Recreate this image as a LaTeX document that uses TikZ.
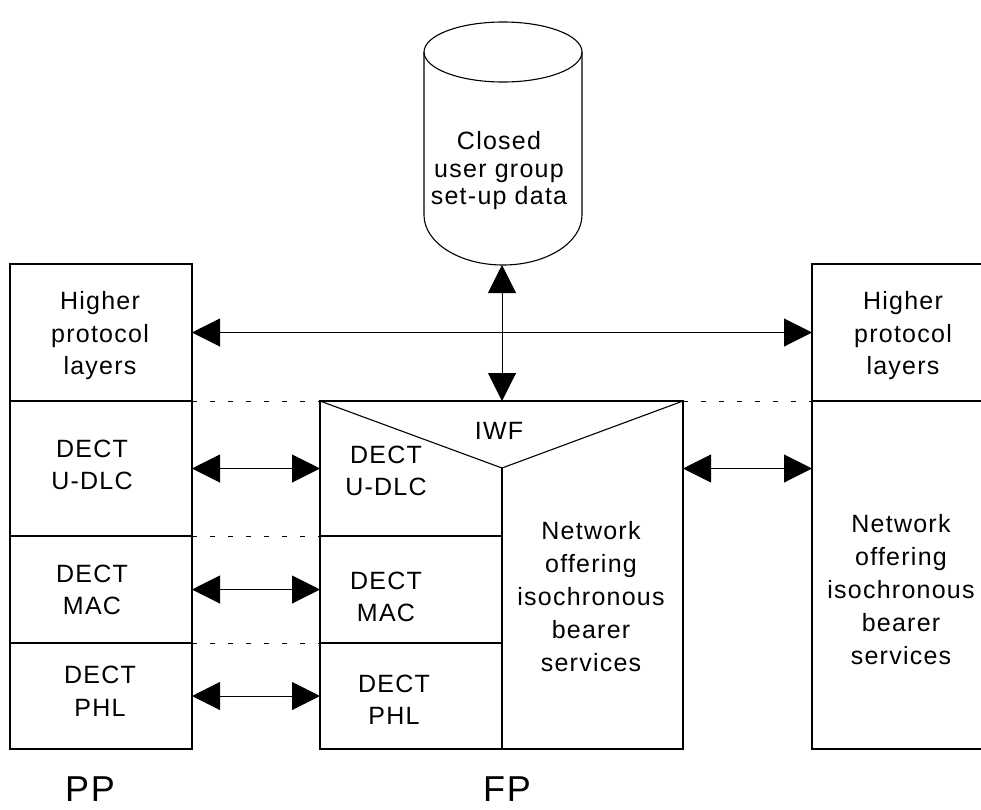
\documentclass[tikz,border=0pt]{standalone}
\usepackage{fontspec}
\setmainfont{Liberation Sans}[LetterSpace=5]
\usetikzlibrary{arrows.meta}
\begin{document}
\begin{tikzpicture}[x=1pt,y=-1pt,line width=1.1pt,
  box/.style={draw,rectangle,outer sep=0pt,inner sep=0pt},
  lbl/.style={align=center,inner sep=0pt,font=\fontsize{25}{32.5}\selectfont},
  big/.style={inner sep=0pt,anchor=base,font=\fontsize{36}{38}\selectfont},
  arr/.style={{Triangle[length=28pt,width=28pt]}-{Triangle[length=28pt,width=28pt]},line width=1pt},
  sep/.style={dash pattern=on 5pt off 13pt,line width=0.9pt}]
\useasboundingbox (0,0) rectangle (981,809);

% cylinder
\draw (424,52) -- (424,215) arc[start angle=180,end angle=360,x radius=79pt,y radius=50pt] -- (582,52);
\draw (503,52) ellipse[x radius=79pt,y radius=30pt];
\node[lbl,font=\fontsize{25}{27.5}\selectfont] (cug) at (499,171) {Closed\\user group\\set-up data};
\coordinate (cylbot) at (502,265);

% PP column
\node[box,minimum width=182pt,minimum height=137pt] (lhpl) at (101,332.5) {};
\node[box,minimum width=182pt,minimum height=135pt] (ldlc) at (101,468.5) {};
\node[box,minimum width=182pt,minimum height=107pt] (lmac) at (101,589.5) {};
\node[box,minimum width=182pt,minimum height=106pt] (lphl) at (101,696) {};

% right column
\node[box,minimum width=171pt,minimum height=137pt] (rhpl) at (897.5,332.5) {};
\node[box,minimum width=171pt,minimum height=348pt] (rnet) at (897.5,575) {};

% FP block
\draw (320,401) rectangle (683,749);
\draw (320,401) -- (502,468) -- (683,401);
\draw (502,468) -- (502,749);
\node[box,minimum width=182pt,minimum height=107pt] (fmac) at (411,589.5) {};
\node[box,minimum width=182pt,minimum height=106pt] (fphl) at (411,696) {};
\coordinate (iwftop) at (502,401);
\coordinate (fdlcW) at (320,468.5);
\coordinate (fnetE) at (683,468.5);
\coordinate (fTL) at (320,401);
\coordinate (fTR) at (683,401);

% dashed layer separators
\draw[sep] (lhpl.south east) -- (fTL);
\draw[sep] (fTR) -- (rhpl.south west);
\draw[sep] (ldlc.south east) -- (fmac.north west);
\draw[sep] (lmac.south east) -- (fphl.north west);

% arrows
\draw[arr] (lhpl.east) -- (rhpl.west);
\draw[arr] (cylbot) -- (iwftop);
\draw[arr] (ldlc.east) -- (fdlcW);
\draw[arr] (lmac.east) -- (fmac.west);
\draw[arr] (lphl.east) -- (fphl.west);
\draw[arr] (fnetE) -- (rnet.west |- fnetE);

% texts
\node[lbl] (tlhpl) at (100,336) {Higher\\protocol\\layers};
\node[lbl] (trhpl) at (903,336) {Higher\\protocol\\layers};
\node[lbl] (tldlc) at (92,465) {DECT\\U-DLC};
\node[lbl] (tlmac) at (92,590) {DECT\\MAC};
\node[lbl] (tlphl) at (100,691.5) {DECT\\PHL};
\node[lbl] (tfdlc) at (386,471) {DECT\\U-DLC};
\node[lbl] (tfmac) at (386,597) {DECT\\MAC};
\node[lbl] (tfphl) at (394,700) {DECT\\PHL};
\node[lbl] (tiwf) at (499,431) {IWF};
\node[lbl,font=\fontsize{25}{33}\selectfont] (tfnet) at (591,597) {Network\\offering\\isochronous\\bearer\\services};
\node[lbl,font=\fontsize{25}{33}\selectfont] (trnet) at (901,590) {Network\\offering\\isochronous\\bearer\\services};
\node[big] (pp) at (90,801) {PP};
\node[big] (fp) at (507,801) {FP};
\end{tikzpicture}
\end{document}
